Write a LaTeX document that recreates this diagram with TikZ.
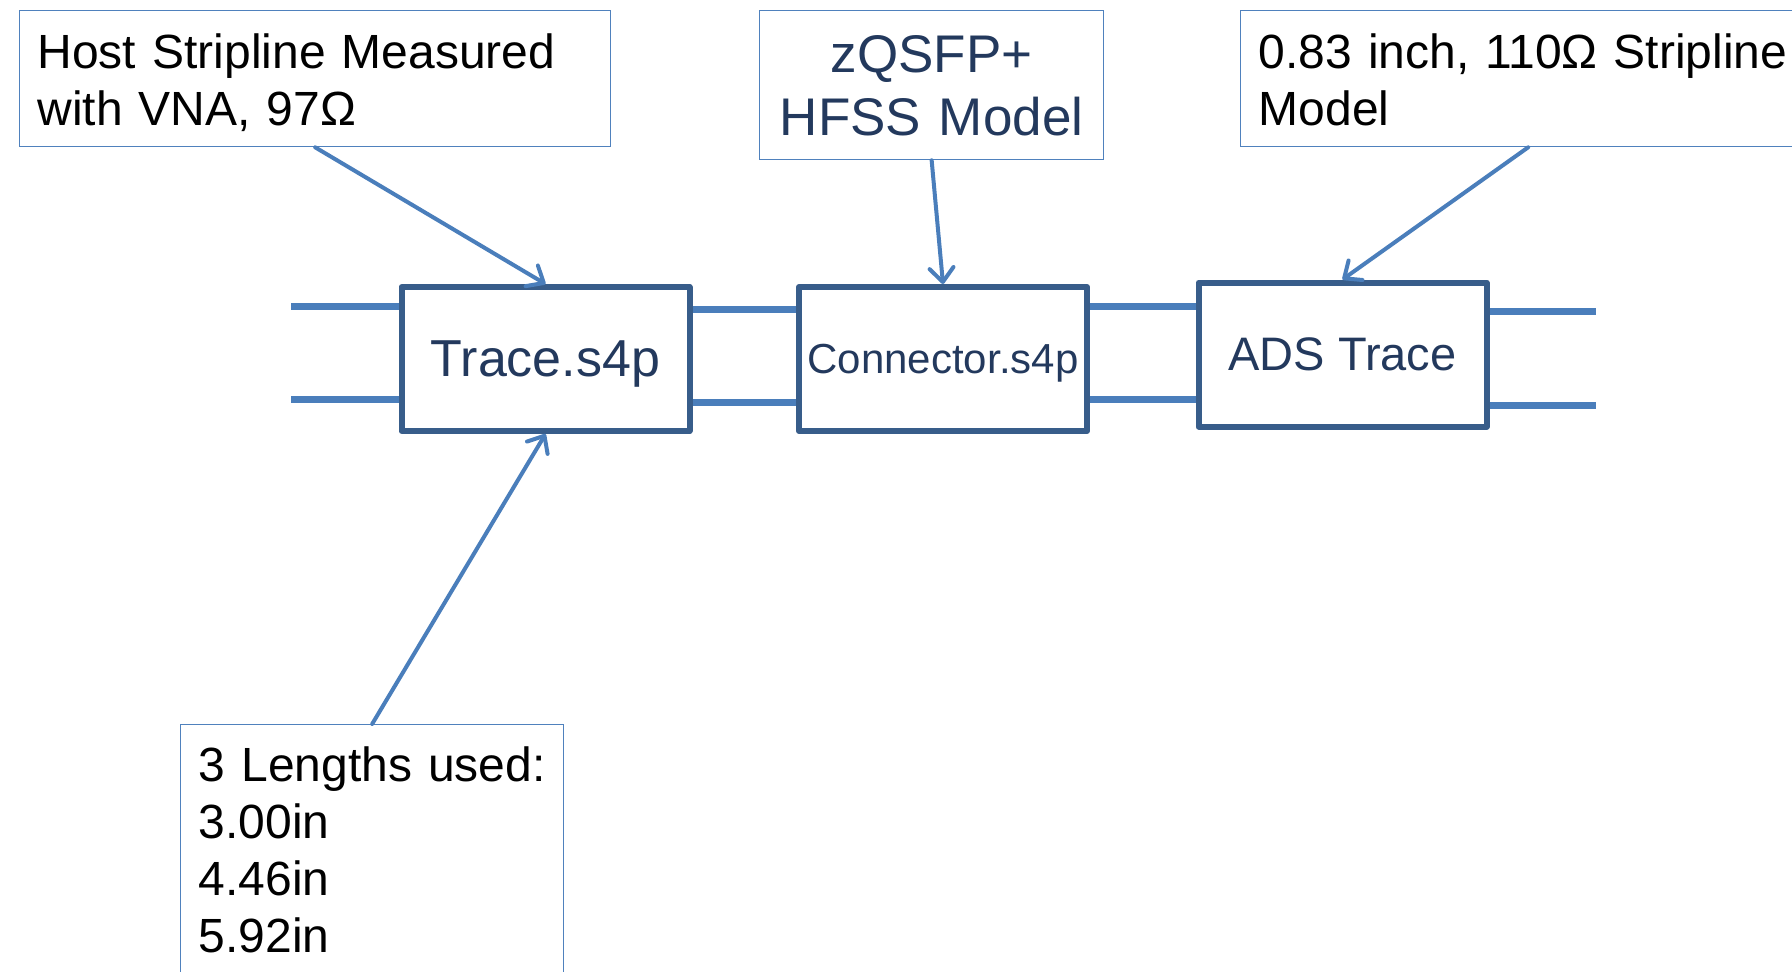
\documentclass[tikz,border=0pt]{standalone}
\usepackage{fontspec}
\setmainfont{Liberation Sans}
\usetikzlibrary{arrows.meta}
\definecolor{calloutblue}{HTML}{4F81BD}
\definecolor{wireblue}{HTML}{4A7EBB}
\definecolor{blockborder}{HTML}{385D8A}
\definecolor{blocktext}{HTML}{23395D}
\begin{document}
\begin{tikzpicture}
		[x=1pt,y=-1pt,
		callout/.style={draw=calloutblue,line width=1.3pt,anchor=north west,align=left,inner xsep=18pt,inner ysep=10pt,font=\fontsize{48}{57}\selectfont},
		block/.style={draw=blockborder,line width=6pt,line join=round,minimum width=288pt,minimum height=144pt,inner sep=0pt,text=blocktext,text depth=0pt},
		wire/.style={draw=wireblue,line width=7pt},
		pointer/.style={draw=wireblue,line width=4pt,line cap=round,-{Straight Barb[length=14pt,width=24pt,round]}}]
		\useasboundingbox (0,0) rectangle (1792,972);
		\node[block,font=\fontsize{52}{62}\selectfont,name=trace] at (545.5,359) {Trace.s4p};
		\node[block,font=\fontsize{42}{50}\selectfont,name=conn] at (943,359) {Connector.s4p};
		\node[block,font=\fontsize{47}{56}\selectfont,name=ads] at (1342.5,354.5) {ADS Trace};
		\node[callout,text width=555pt,text height=48pt,text depth=68pt,name=host] at (19,10)
		{Host Stripline Measured\\with VNA, 97Ω};
		\node[callout,align=center,text=blocktext,font=\fontsize{53}{63}\selectfont,text width=308pt,text height=52pt,text depth=77pt,name=hfss] at (759,10)
		{zQSFP+\\HFSS Model};
		\node[callout,text width=539pt,text height=48pt,text depth=68pt,name=ads model] at (1240,10)
		{0.83 inch, 110Ω Stripline\\Model};
		\node[callout,text width=347pt,text height=47pt,text depth=300pt,name=lengths] at (180,724)
		{3 Lengths used:\\3.00in\\4.46in\\5.92in};
		\coordinate (inA) at (291,306);
		\coordinate (inB) at (291,399);
		\coordinate (outA) at (1596,311);
		\coordinate (outB) at (1596,405);
		\draw[wire] (inA) -- (trace.west |- inA);
		\draw[wire] (inB) -- (trace.west |- inB);
		\draw[wire] (trace.east |- 0,309) -- (conn.west |- 0,309);
		\draw[wire] (trace.east |- 0,402) -- (conn.west |- 0,402);
		\draw[wire] (conn.east |- 0,306) -- (ads.west |- 0,306);
		\draw[wire] (conn.east |- 0,399) -- (ads.west |- 0,399);
		\draw[wire] (ads.east |- outA) -- (outA);
		\draw[wire] (ads.east |- outB) -- (outB);
		\draw[pointer] (host.south) -- (trace.north);
		\draw[pointer] (hfss.south) -- (conn.north);
		\draw[pointer] (ads model.south) -- (ads.north);
		\draw[pointer] (lengths.north) -- (trace.south);
	\end{tikzpicture}
\end{document}
